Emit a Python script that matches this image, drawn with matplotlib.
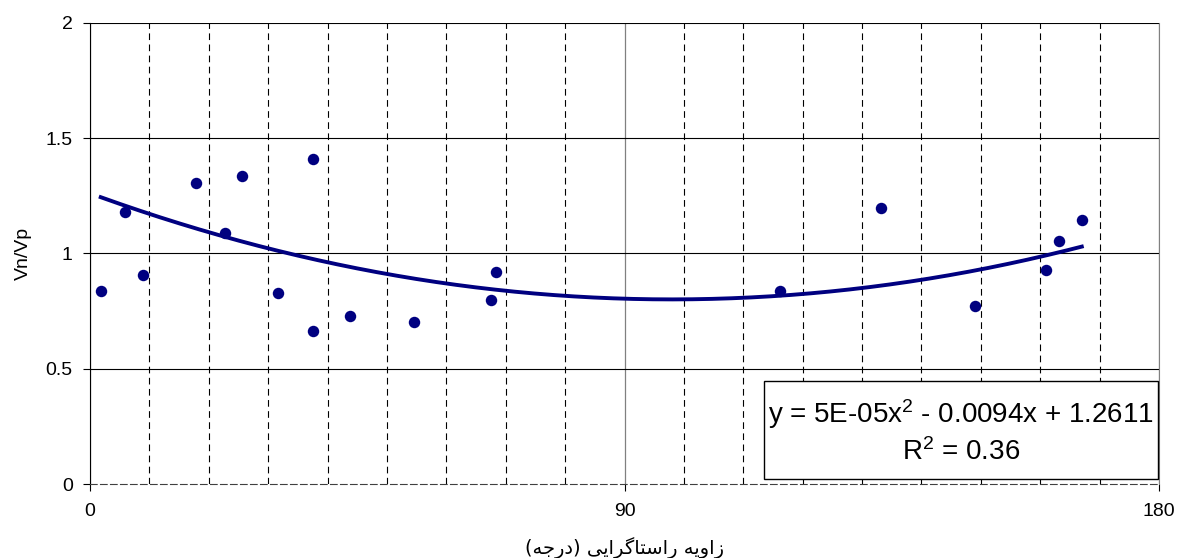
import numpy as np
import matplotlib
matplotlib.use("Agg")
import matplotlib.pyplot as plt
from matplotlib.ticker import MultipleLocator
from matplotlib.patches import Rectangle

plt.rcParams['font.family'] = ['Liberation Sans', 'DejaVu Sans']
plt.rcParams['mathtext.fontset'] = 'custom'
plt.rcParams['mathtext.rm'] = 'Liberation Sans'
plt.rcParams['mathtext.default'] = 'regular'

# angle (deg) vs Vn/Vp
angle = np.array([1.8, 5.9, 8.9, 17.8, 22.7, 25.6, 31.7, 37.6, 37.6, 43.7,
                  54.6, 67.5, 68.4, 116.1, 133.2, 149.0, 160.9, 163.1, 167.0])
ratio = np.array([0.837, 1.179, 0.905, 1.304, 1.087, 1.337, 0.830, 1.412, 0.663, 0.730,
                  0.704, 0.797, 0.919, 0.838, 1.196, 0.772, 0.929, 1.054, 1.145])

# trendline coefficients (from the equation label; x^2 term refined to the drawn curve)
trend_coef = [4.8e-5, -0.0094, 1.2611]

x_ticks = [0, 90, 180]
y_ticks = [0, 0.5, 1, 1.5, 2]
eq_text = "y = 5E-05x$^2$ - 0.0094x + 1.2611\nR$^2$ = 0.36"
y_label = "Vn/Vp"
# "زاویه راستاگرایی (درجه)" written in shaped presentation forms, visual order
x_label = ("(\uFEEA\uFE9F\uFEAD\uFEA9) "
           "\uFBFD\uFBFE\uFE8D\uFEAE\uFB94\uFE8E\uFE98\uFEB3\uFE8D\uFEAD "
           "\uFEEA\uFBFE\uFEED\uFE8D\uFEAF")

navy = "#000080"

fig = plt.figure(figsize=(11.8, 5.58), dpi=100)
ax = fig.add_axes([0.0763, 0.1326, 0.9059, 0.8262])

ax.scatter(angle, ratio, s=68, color=navy, zorder=3, linewidths=0)

xf = np.linspace(angle.min(), angle.max(), 200)
ax.plot(xf, np.polyval(trend_coef, xf), color=navy, lw=2.8, zorder=3)

ax.set_xlim(0, 180)
ax.set_ylim(0, 2)
ax.set_xticks(x_ticks)
ax.set_yticks(y_ticks)
ax.set_yticklabels(["0", "0.5", "1", "1.5", "2"])
ax.xaxis.set_minor_locator(MultipleLocator(10))

ax.tick_params(axis='both', which='major', labelsize=14, length=5, width=0.8,
               direction='out', color='black')
ax.tick_params(axis='x', which='major', pad=9)
ax.tick_params(axis='y', which='major', pad=7.5)
ax.tick_params(axis='x', which='minor', length=0)

ax.yaxis.grid(True, color='black', lw=0.8)
ax.yaxis.get_gridlines()[0].set_visible(False)
ax.xaxis.grid(True, which='major', color='#808080', lw=0.9)
ax.xaxis.grid(True, which='minor', color='black', lw=0.8, ls=(0, (6, 4)))
ax.set_axisbelow(True)

ax.spines['top'].set_visible(False)
ax.spines['right'].set_color('#808080')
ax.spines['bottom'].set_linestyle((0, (6, 3)))
ax.spines['bottom'].set_color('#404040')
ax.spines['left'].set_color('black')

ax.set_ylabel(y_label, fontsize=14, labelpad=10)
ax.set_xlabel(x_label, fontsize=14, family=['DejaVu Sans'], labelpad=12)

# equation box
ax.add_patch(Rectangle((0.6305, 0.011), 0.3685, 0.212, transform=ax.transAxes,
                       fc='white', ec='black', lw=1, zorder=5, clip_on=False))
ax.text(0.815, 0.114, eq_text, transform=ax.transAxes, ha='center', va='center',
        fontsize=20, linespacing=1.35, zorder=6)

fig.savefig("out.png", dpi=100)
